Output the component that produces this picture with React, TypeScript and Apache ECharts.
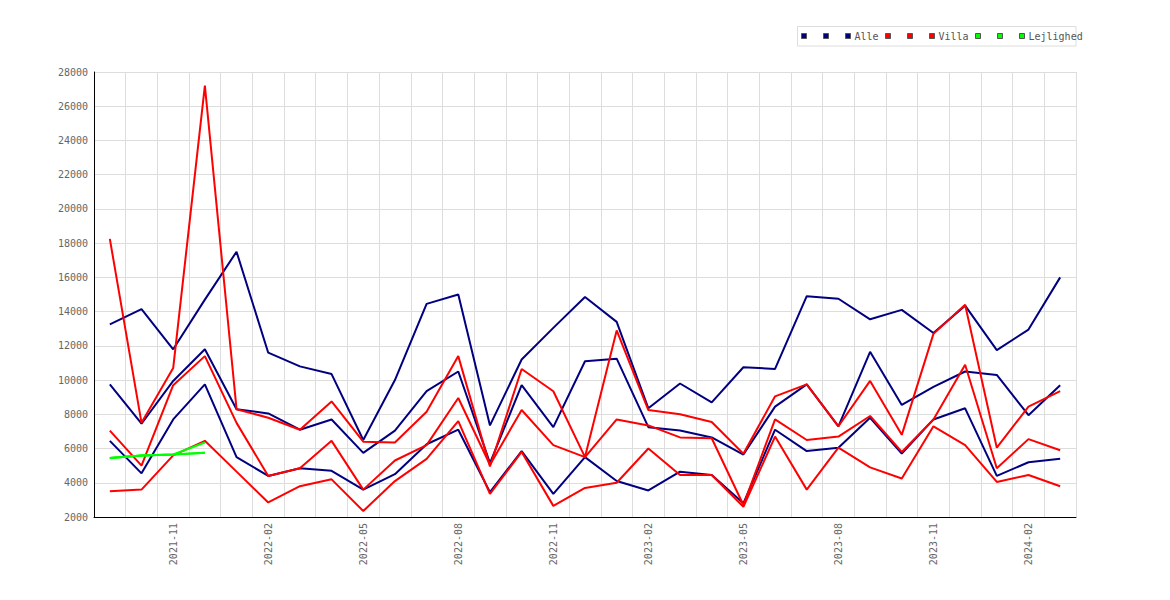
import React, { useEffect, useRef } from "react";
import * as echarts from "echarts";

const categories = [
  "2021-09", "2021-10", "2021-11", "2021-12",
  "2022-01", "2022-02", "2022-03", "2022-04", "2022-05", "2022-06",
  "2022-07", "2022-08", "2022-09", "2022-10", "2022-11", "2022-12",
  "2023-01", "2023-02", "2023-03", "2023-04", "2023-05", "2023-06",
  "2023-07", "2023-08", "2023-09", "2023-10", "2023-11", "2023-12",
  "2024-01", "2024-02", "2024-03",
];

const alleHigh = [13250, 14150, 11800, 14700, 17500, 11600, 10800, 10350, 6500, 10000, 14450, 15000, 7350, 11200, 13050, 14850, 13400, 8350, 9800, 8700, 10750, 10650, 14900, 14750, 13550, 14100, 12750, 14350, 11750, 12950, 16000];
const alleMid = [9750, 7450, 9950, 11800, 8300, 8050, 7100, 7700, 5750, 7050, 9350, 10500, 5150, 9700, 7250, 11100, 11250, 7250, 7050, 6650, 5650, 8450, 9750, 7300, 11650, 8550, 9600, 10500, 10300, 7950, 9700];
const alleLow = [6450, 4550, 7700, 9750, 5500, 4400, 4850, 4700, 3600, 4500, 6250, 7100, 3450, 5850, 3350, 5500, 4100, 3550, 4650, 4450, 2800, 7100, 5850, 6050, 7800, 5700, 7700, 8350, 4400, 5200, 5400];

const villaHigh = [18250, 7500, 10700, 27200, 8300, 7800, 7100, 8750, 6400, 6350, 8150, 11400, 4950, 10650, 9350, 5500, 12900, 8250, 8000, 7550, 5700, 9050, 9750, 7300, 9950, 6800, 12700, 14400, 6050, 8450, 9350];
const villaMid = [7050, 5000, 9700, 11400, 7500, 4400, 4850, 6450, 3600, 5300, 6200, 8950, 5050, 8250, 6200, 5500, 7700, 7350, 6650, 6600, 2700, 7700, 6500, 6700, 7900, 5800, 7700, 10900, 4850, 6550, 5900];
const villaLow = [3500, 3600, 5600, 6450, 4650, 2850, 3800, 4200, 2350, 4100, 5400, 7600, 3350, 5800, 2650, 3700, 4000, 6000, 4450, 4450, 2600, 6700, 3600, 6050, 4900, 4250, 7300, 6200, 4050, 4450, 3800];

const lejHigh = [5450, 5600, 5650, 6350];
const lejMid = [5450, 5600, 5650, 5750];
const lejLow = [5450, 5600, 5650, 5750];

const yTicks = { min: 2000, max: 28000, interval: 2000 };

const NAVY = "#000080";
const RED = "#ff0000";
const GREEN = "#00ff00";
const MONO = "'DejaVu Sans Mono', monospace";

function pad(arr: number[]) {
  const out: (number | null)[] = categories.map(() => null);
  arr.forEach((v, i) => (out[i] = v));
  return out;
}

export default function App() {
  const ref = useRef<HTMLDivElement>(null);
  useEffect(() => {
    if (!ref.current) return;
    const chart = echarts.init(ref.current, null, { renderer: "svg" });
    const mk = (name: string, data: (number | null)[], color: string) => ({
      name,
      type: "line",
      data,
      symbol: "none",
      connectNulls: false,
      silent: true,
      lineStyle: { width: 2, color },
      itemStyle: { color },
    });
    const legendItems: any[] = [];
    const sq = [
      [801, NAVY], [823, NAVY], [845, NAVY],
      [885, RED], [907, RED], [929, RED],
      [975, GREEN], [997, GREEN], [1019, GREEN],
    ] as [number, string][];
    sq.forEach(([x, c]) =>
      legendItems.push({
        type: "rect",
        shape: { x: x + 0.5, y: 33.5, width: 5, height: 5 },
        style: { fill: c, stroke: "#555", lineWidth: 1 },
      })
    );
    const legendTexts = [
      [854.5, "Alle"],
      [938.5, "Villa"],
      [1028.5, "Lejlighed"],
    ] as [number, string][];
    legendTexts.forEach(([x, t]) =>
      legendItems.push({
        type: "text",
        x,
        y: 36.5,
        style: {
          text: t,
          fill: "#555",
          font: `10px ${MONO}`,
          verticalAlign: "middle",
          align: "left",
        },
      })
    );
    chart.setOption({
      animation: false,
      backgroundColor: "#fff",
      grid: { left: 94, right: 94, top: 72, bottom: 83, containLabel: false },
      graphic: [
        {
          type: "rect",
          shape: { x: 797.5, y: 26.5, width: 278.5, height: 19.5 },
          style: { fill: "#fff", stroke: "#ddd", lineWidth: 1 },
        },
        ...legendItems,
      ],
      xAxis: {
        type: "category",
        data: categories,
        boundaryGap: true,
        axisLine: { show: true, lineStyle: { color: "#000", width: 1 } },
        axisTick: { show: false, interval: 0 },
        splitLine: { show: true, interval: 0, lineStyle: { color: "#ddd", width: 1 } },
        axisLabel: {
          rotate: 90,
          margin: 6,
          interval: (i: number) => i % 3 === 2,
          fontFamily: MONO,
          fontSize: 10,
          color: "#666",
        },
      },
      yAxis: {
        type: "value",
        min: yTicks.min,
        max: yTicks.max,
        interval: yTicks.interval,
        axisLine: { show: true, lineStyle: { color: "#000", width: 1 } },
        axisTick: { show: false },
        splitLine: { show: true, lineStyle: { color: "#ddd", width: 1 } },
        axisLabel: {
          margin: 6,
          fontFamily: MONO,
          fontSize: 10,
          color: "#666",
          formatter: (v: number) => String(v),
        },
      },
      series: [
        mk("Alle høj", alleHigh, NAVY),
        mk("Alle mid", alleMid, NAVY),
        mk("Alle lav", alleLow, NAVY),
        mk("Villa høj", villaHigh, RED),
        mk("Villa mid", villaMid, RED),
        mk("Villa lav", villaLow, RED),
        mk("Lejlighed høj", pad(lejHigh), GREEN),
        mk("Lejlighed mid", pad(lejMid), GREEN),
        mk("Lejlighed lav", pad(lejLow), GREEN),
      ],
    });
    return () => chart.dispose();
  }, []);
  return (
    <div
      ref={ref}
      style={{ position: "absolute", left: 0, top: 0, width: 1170, height: 600, background: "#fff" }}
    />
  );
}
